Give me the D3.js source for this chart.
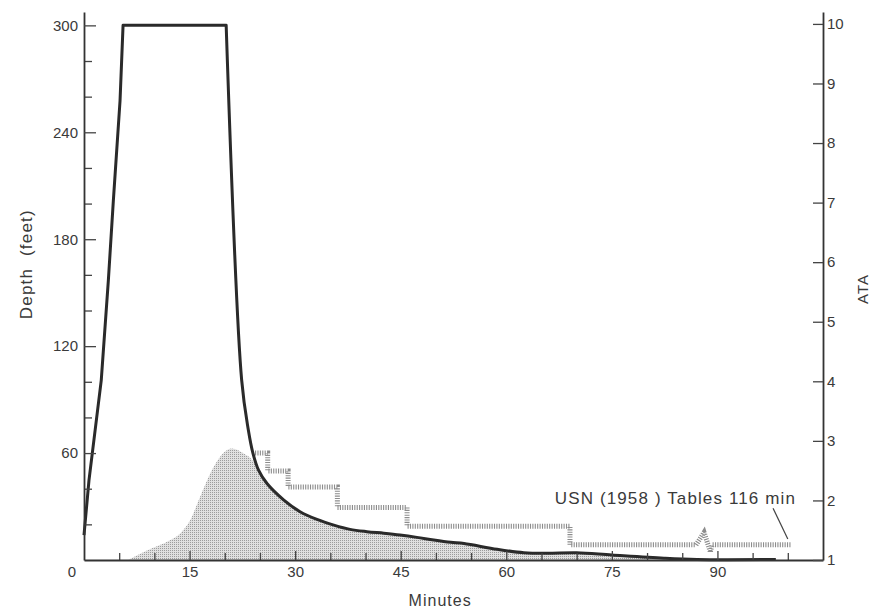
<!DOCTYPE html>
<html>
<head>
<meta charset="utf-8">
<script src="https://cdn.jsdelivr.net/npm/d3@7"></script>
<style>
  body { margin: 0; background: #fff; }
  svg { display: block; }
  text { font-family: "Liberation Sans", Arial, sans-serif; fill: #3a3a3a; }
</style>
</head>
<body>
<div id="chart"></div>
<script>
// Depth profile (minutes, feet)
var profileTime  = [0, 0.71, 2.45, 3.46, 4.17, 5.12, 5.55, 20.2, 22.4, 23.35, 24.0, 24.8, 26.0, 28.4, 30.7, 33.1, 35.5, 37.8, 40.2, 42.6, 44.9, 47.3, 49.7, 52.1, 54.0, 58.7, 62.5, 65.8, 70.0, 75.0, 82.4, 87.1, 98.3];
var profileDepth = [14, 44.8, 100.8, 156.9, 201.7, 257.7, 300, 300, 101, 73, 60, 50.4, 42.9, 33.6, 27.1, 22.8, 19.6, 17.2, 15.9, 15.0, 14.0, 12.7, 11.2, 9.9, 9.2, 6.0, 4.1, 3.8, 4.1, 2.8, 1.0, 0.3, 0.3];
var straightEnd = 20.2; // straight descent and bottom time; smooth ascent after

// Shaded hump (rising part, then it follows the profile)
var gasTime  = [6.3, 8.0, 9.9, 11.8, 13.7, 15.1, 16.5, 18.4, 19.8, 21.0, 22.7, 23.8];
var gasDepth = [0, 3.5, 7.0, 10.3, 15.0, 22.4, 35.5, 52.0, 60.0, 62.5, 59.7, 56.5];
var gasJoin = 24.0, gasEnd = 87.1;

// USN (1958) table stops
var stopTime  = [24.3, 26.1, 29.0, 36.0, 45.9, 69.05, 86.96];
var stopDepth = [60, 50, 41, 29.5, 19, 8.5, 8.5];
var breakTime  = [86.96, 88.1, 89.0, 89.25, 100.4];
var breakDepth = [8.5, 15.5, 4.5, 8.5, 8.5];

// Axes
var depthTicks = [60, 120, 180, 240, 300];
var depthMinor = [20, 40, 80, 100, 140, 160, 200, 220, 260, 280];
var minuteTicks = [15, 30, 45, 60, 75, 90];
var minuteMinor = [5, 10, 20, 25, 35, 40, 50, 55, 65, 70, 80, 85, 95, 100];
var ataTicks = [1, 2, 3, 4, 5, 6, 7, 8, 9, 10];

var label = "USN (1958 ) Tables 116 min";

var W = 871, H = 610;
var svg = d3.select("#chart").append("svg")
    .attr("width", W)
    .attr("height", H);

var x = d3.scaleLinear().domain([0, 105]).range([84, 823]);
var y = d3.scaleLinear().domain([0, 307.5]).range([560, 12]);
var ata = d3.scaleLinear().domain([1, 10.2]).range([560, 12]);

// stipple pattern
var pat = svg.append("defs").append("pattern")
    .attr("id", "stipple")
    .attr("width", 2).attr("height", 2)
    .attr("patternUnits", "userSpaceOnUse");
pat.append("rect").attr("width", 2).attr("height", 2).attr("fill", "#e0e0e0");
pat.append("rect").attr("width", 1).attr("height", 1).attr("fill", "#9c9c9c");

// shaded area
var profile = profileTime.map((t, i) => ({t: t, d: profileDepth[i]}));
var gas = gasTime.map((t, i) => ({t: t, d: gasDepth[i]}))
    .concat(profile.filter(p => p.t > gasJoin && p.t <= gasEnd));

var area = d3.area()
    .x(d => x(d.t))
    .y0(y(0))
    .y1(d => y(d.d))
    .curve(d3.curveMonotoneX);

svg.append("path")
    .datum(gas)
    .attr("d", area)
    .attr("fill", "url(#stipple)");

// USN stops, hatched
var hatch = {stroke: "#8c8c8c", width: 5, dash: "1.1 1.3"};
svg.append("path")
    .datum(stopTime.map((t, i) => ({t: t, d: stopDepth[i]})))
    .attr("d", d3.line().x(d => x(d.t)).y(d => y(d.d)).curve(d3.curveStepAfter))
    .attr("fill", "none")
    .attr("stroke", hatch.stroke)
    .attr("stroke-width", hatch.width)
    .attr("stroke-dasharray", hatch.dash);

svg.append("path")
    .datum(breakTime.map((t, i) => ({t: t, d: breakDepth[i]})))
    .attr("d", d3.line().x(d => x(d.t)).y(d => y(d.d)))
    .attr("fill", "none")
    .attr("stroke", hatch.stroke)
    .attr("stroke-width", hatch.width)
    .attr("stroke-dasharray", hatch.dash);

// depth profile: straight descent and bottom time, smooth ascent after
var straight = d3.line().x(d => x(d.t)).y(d => y(d.d));
var smooth = d3.line().x(d => x(d.t)).y(d => y(d.d)).curve(d3.curveCatmullRom.alpha(0.5));

svg.append("path")
    .attr("d", straight(profile.filter(p => p.t <= straightEnd)) +
        smooth(profile.filter(p => p.t >= straightEnd)).replace(/^M[^A-Za-z]*/, ""))
    .attr("fill", "none")
    .attr("stroke", "#2a2a2a")
    .attr("stroke-width", 3)
    .attr("stroke-linejoin", "round");

// left axis
var leftMinor = svg.append("g")
    .attr("transform", `translate(${x(0)},0)`)
    .call(d3.axisLeft(y).tickValues(depthMinor).tickSize(-8).tickSizeOuter(0).tickFormat(""));
leftMinor.select(".domain").remove();

var leftAxis = svg.append("g")
    .attr("transform", `translate(${x(0)},0)`)
    .call(d3.axisLeft(y).tickValues(depthTicks).tickSize(-12).tickSizeOuter(0).tickPadding(6));

// bottom axis
var bottomMinor = svg.append("g")
    .attr("transform", `translate(0,${y(0)})`)
    .call(d3.axisBottom(x).tickValues(minuteMinor).tickSize(-7).tickSizeOuter(0).tickFormat(""));
bottomMinor.select(".domain").remove();

var bottomAxis = svg.append("g")
    .attr("transform", `translate(0,${y(0)})`)
    .call(d3.axisBottom(x).tickValues(minuteTicks).tickSize(-9).tickSizeOuter(0).tickPadding(6));

// right axis
var rightAxis = svg.append("g")
    .attr("transform", `translate(${x(105)},0)`)
    .call(d3.axisRight(ata).tickValues(ataTicks).tickSize(-10).tickSizeOuter(0).tickPadding(4));

svg.selectAll(".domain").attr("stroke", "#333").attr("stroke-width", 1.8);
svg.selectAll(".tick line").attr("stroke", "#444").attr("stroke-width", 1.3);
svg.selectAll(".tick text")
    .attr("font-family", "Liberation Sans, Arial, sans-serif")
    .attr("font-size", 15)
    .attr("fill", "#3a3a3a");

// origin label
svg.append("text")
    .attr("x", x(0) - 12)
    .attr("y", y(0) + 17)
    .attr("text-anchor", "middle")
    .attr("font-size", 15)
    .text("0");

// axis titles
svg.append("text")
    .attr("transform", `translate(32,${y(166)}) rotate(-90)`)
    .attr("text-anchor", "middle")
    .attr("font-size", 17)
    .attr("letter-spacing", 1.2)
    .style("white-space", "pre")
    .text("Depth  (feet)");

svg.append("text")
    .attr("transform", `translate(868,${ata(5.55)}) rotate(-90)`)
    .attr("text-anchor", "middle")
    .attr("font-size", 15)
    .attr("letter-spacing", 1)
    .text("ATA");

svg.append("text")
    .attr("x", x(50.6))
    .attr("y", 606)
    .attr("text-anchor", "middle")
    .attr("font-size", 16)
    .attr("letter-spacing", 1)
    .text("Minutes");

// annotation
svg.append("text")
    .attr("x", x(66.9))
    .attr("y", y(31.4))
    .attr("font-size", 17)
    .attr("textLength", 240)
    .attr("lengthAdjust", "spacing")
    .text(label);

svg.append("line")
    .attr("x1", x(97.9)).attr("y1", y(29.1))
    .attr("x2", x(100.0)).attr("y2", y(11.8))
    .attr("stroke", "#444")
    .attr("stroke-width", 1.2);
</script>
</body>
</html>
